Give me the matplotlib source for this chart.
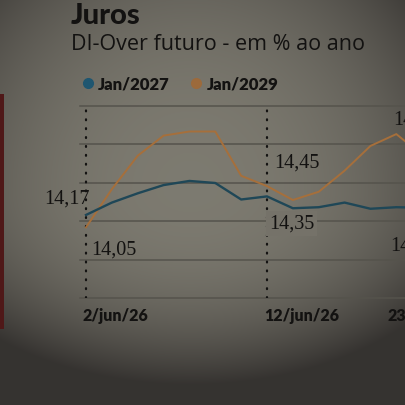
import numpy as np
import matplotlib
matplotlib.use("Agg")
import matplotlib.pyplot as plt
from matplotlib.lines import Line2D
from matplotlib.patches import Rectangle

# DI-Over futuro, % ao ano
pregoes = list(range(14))
jan2027 = [14.17, 14.29, 14.38, 14.46, 14.50, 14.48, 14.32, 14.35,
           14.235, 14.245, 14.29, 14.23, 14.245, 14.24]
jan2029 = [14.05, 14.42, 14.745, 14.94, 14.98, 14.98, 14.55, 14.45,
           14.315, 14.395, 14.60, 14.84, 14.955, 14.75]
series_names = ["Jan/2027", "Jan/2029"]
date_labels = ["2/jun/26", "12/jun/26", "23/jun/26"]
date_pos = [0, 7, 12]
dotted_pos = [0, 7]

W = H = 406
DPI = 100
BLUE = "#1f4757"
ORANGE = "#a66f3b"
INK = "#131211"
GRID = "#55534c"
BOLD = ["Lato", "DejaVu Sans"]


def bg_value(x, y):
    """vignette of the photographed page, x/y in pixels from top-left"""
    dx = (x - 190) / 300.0
    dy = np.where(y < 190, (y - 190) / 320.0, (y - 190) / 195.0)
    t = np.clip(dx ** 2 + dy ** 2, 0, 1) ** 1.2
    c1 = np.array([0.49, 0.48, 0.44])
    c0 = np.array([0.21, 0.20, 0.19])
    return c1 + (c0 - c1) * t[..., None]


fig = plt.figure(figsize=(W / DPI, H / DPI), dpi=DPI)

# background photo tone
bg = fig.add_axes([0, 0, 1, 1])
yy, xx = np.mgrid[0:H, 0:W]
bg.imshow(bg_value(xx, yy), extent=(0, W, H, 0), aspect="auto")
bg.set_xlim(0, W)
bg.set_ylim(H, 0)
bg.axis("off")
bg.add_patch(Rectangle((0, 95), 4, 235, color="#4f1818", lw=0))

# plot area: 80..406 px wide, 107..299 px tall
left, right, top, bottom = 80, 406, 107, 299
ax = fig.add_axes([left / W, 1 - bottom / H, (right - left) / W, (bottom - top) / H])
ax.patch.set_alpha(0)
step = 25.86
ax.set_xlim((left - 86) / step, (right - 86) / step)
y_lo = 14.05 - (bottom - 228.3) / 103.0
y_hi = 14.05 + (228.3 - top) / 103.0
ax.set_ylim(y_lo, y_hi)
for v in np.linspace(y_lo, y_hi, 6):
    ax.axhline(v, color=GRID, lw=1.1, zorder=1, clip_on=False)
for s in ax.spines.values():
    s.set_visible(False)
ax.set_xticks([])
ax.set_yticks([])

for p in dotted_pos:
    ax.plot([p, p], [y_lo, y_hi], color=INK, lw=1.6,
            linestyle=(0, (0.4, 3.6)), dash_capstyle="round", zorder=2)

ax.plot(pregoes, jan2029, color=ORANGE, lw=1.4, zorder=3)
ax.plot(pregoes, jan2027, color=BLUE, lw=1.7, zorder=4)

num_font = dict(family="Liberation Serif", fontsize=14.5, color=INK)


def label(i, values, text, dx, dy, ha, box=False):
    kw = {}
    if box:
        kw["bbox"] = dict(boxstyle="square,pad=0.15", lw=0,
                          fc=tuple(bg_value(np.array(300.0), np.array(224.0))))
    ax.annotate(text, (pregoes[i], values[i]), xytext=(dx, dy),
                textcoords="offset pixels", ha=ha, va="center",
                annotation_clip=False, zorder=5, **num_font, **kw)


label(0, jan2027, "14,17", 4, 17, "right")
label(0, jan2029, "14,05", 5, -22, "left")
label(7, jan2029, "14,45", 7, 24, "left")
label(7, jan2027, "14,35", 2, -27, "left", box=True)
label(12, jan2029, "14,96", -3, 15, "left")
label(12, jan2027, "14,24", -6, -38, "left")

date_font = dict(family=BOLD, fontweight="heavy", fontsize=11.5, color=INK)
date_dx = [-3, -3, -9]
for p, txt, dx in zip(date_pos, date_labels, date_dx):
    ax.annotate(txt, (p, 0), xycoords=("data", "axes fraction"),
                xytext=(dx, -17), textcoords="offset pixels",
                ha="left", va="center", annotation_clip=False, **date_font)

# titles
fig.text(71 / W, 1 - 16 / H, "Juros", family=BOLD,
         fontweight="black", fontsize=21, color=INK, va="center", ha="left")
fig.text(71 / W, 1 - 45 / H, "DI-Over futuro - em % ao ano", family="Open Sans",
         fontsize=15.5, color=INK, va="center", ha="left")

# legend
handles = [Line2D([], [], ls="", marker="o", ms=7, color=c)
           for c in ("#1f5670", "#9c6a3c")]
leg = fig.legend(handles, series_names, loc="center left",
                 bbox_to_anchor=(83 / W, 1 - 85 / H), ncol=2, frameon=False,
                 handlelength=0.6, handletextpad=0.3, columnspacing=1.3,
                 borderpad=0, borderaxespad=0,
                 prop=dict(family=BOLD, weight="heavy", size=12))
for t in leg.get_texts():
    t.set_color(INK)

fig.savefig("out.png", dpi=DPI)
